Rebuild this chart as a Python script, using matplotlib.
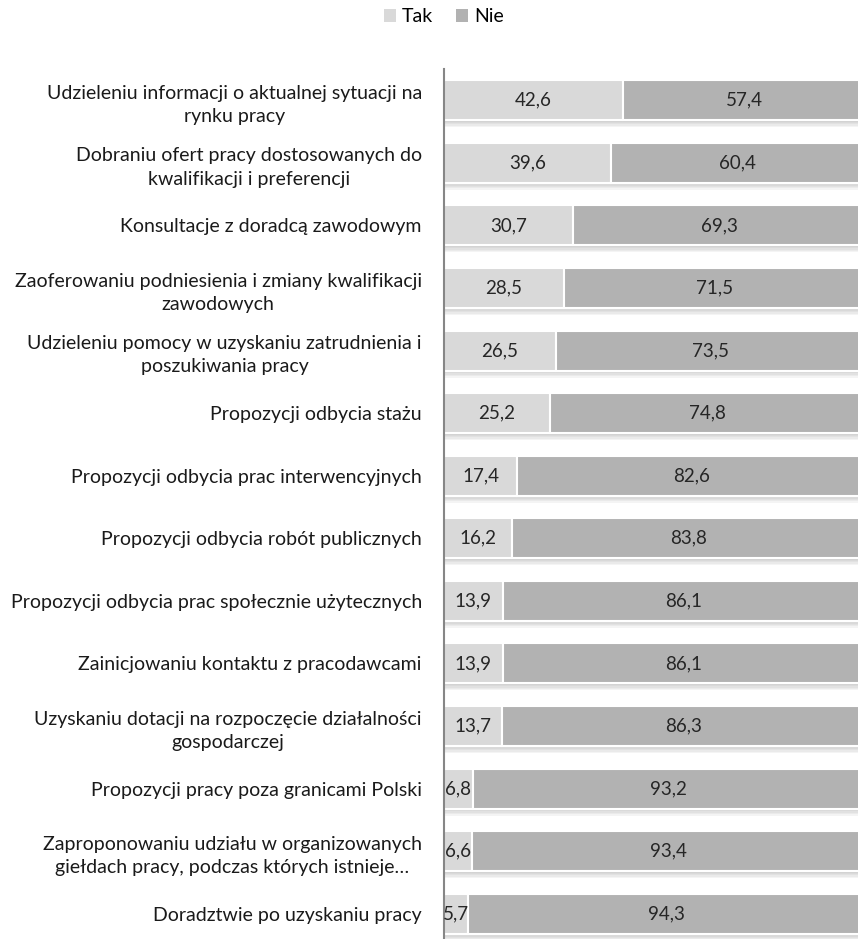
import matplotlib.pyplot as plt
import matplotlib.patheffects as pe
from matplotlib.patches import Patch

plt.rcParams['font.family'] = ['Lato', 'DejaVu Sans']

# odpowiedzi respondentów (%)
kategorie = [
    "Udzieleniu informacji o aktualnej sytuacji na\nrynku pracy",
    "Dobraniu ofert pracy dostosowanych do\nkwalifikacji i preferencji",
    "Konsultacje z doradcą zawodowym",
    "Zaoferowaniu podniesienia i zmiany kwalifikacji\nzawodowych",
    "Udzieleniu pomocy w uzyskaniu zatrudnienia i\nposzukiwania pracy",
    "Propozycji odbycia stażu",
    "Propozycji odbycia prac interwencyjnych",
    "Propozycji odbycia robót publicznych",
    "Propozycji odbycia prac społecznie użytecznych",
    "Zainicjowaniu kontaktu z pracodawcami",
    "Uzyskaniu dotacji na rozpoczęcie działalności\ngospodarczej",
    "Propozycji pracy poza granicami Polski",
    "Zaproponowaniu udziału w organizowanych\ngiełdach pracy, podczas których istnieje…",
    "Doradztwie po uzyskaniu pracy",
]
tak = [42.6, 39.6, 30.7, 28.5, 26.5, 25.2, 17.4, 16.2, 13.9, 13.9, 13.7, 6.8, 6.6, 5.7]
nie = [57.4, 60.4, 69.3, 71.5, 73.5, 74.8, 82.6, 83.8, 86.1, 86.1, 86.3, 93.2, 93.4, 94.3]

KOLOR_TAK = '#D9D9D9'
KOLOR_NIE = '#B2B2B2'

W, H = 858, 939
fig = plt.figure(figsize=(W / 100, H / 100), dpi=100)
# os wykresu wychodzi poza prawy i dolny brzeg (przyciete jak w raporcie)
ax = fig.add_axes([444 / W, 1 - 945 / H, 421 / W, (945 - 69) / H])

y = list(range(len(kategorie)))
# miekki cien pod slupkami
cien = [pe.SimplePatchShadow(offset=(0, -k), shadow_rgbFace='#909090', alpha=0.09)
        for k in (1, 2, 3, 4, 5)] + [pe.Normal()]

b1 = ax.barh(y, tak, height=0.64, color=KOLOR_TAK, edgecolor='white', linewidth=1.5, zorder=2)
b2 = ax.barh(y, nie, left=tak, height=0.64, color=KOLOR_NIE, edgecolor='white', linewidth=1.5,
             zorder=2)
for b in list(b1) + list(b2):
    b.set_path_effects(cien)

for i in y:
    ax.text(tak[i] / 2, i, f"{tak[i]:.1f}".replace('.', ','), ha='center', va='center',
            fontsize=13.5, color='#262626', zorder=4)
    ax.text(tak[i] + nie[i] / 2, i, f"{nie[i]:.1f}".replace('.', ','), ha='center', va='center',
            fontsize=13.5, color='#262626', zorder=4)

ax.set_xlim(0, 100)
ax.set_ylim(len(kategorie) - 0.5, -0.5)
ax.set_yticks(y)
ax.set_yticklabels(kategorie, fontsize=14, color='#1a1a1a', multialignment='center',
                   linespacing=1.45)
ax.tick_params(axis='y', length=0, pad=16)
ax.set_xticks([])
for s in ['top', 'right', 'bottom']:
    ax.spines[s].set_visible(False)
ax.spines['left'].set_color('#868686')
ax.spines['left'].set_linewidth(1.5)
ax.spines['left'].set_zorder(3)

uchwyty = [Patch(facecolor=KOLOR_TAK, label='Tak'), Patch(facecolor=KOLOR_NIE, label='Nie')]
fig.legend(handles=uchwyty, loc='center', bbox_to_anchor=(444 / W, 1 - 17 / H), ncol=2,
           frameon=False, fontsize=14, handlelength=0.6, handleheight=0.6,
           handletextpad=0.3, columnspacing=1.2)

fig.savefig('out.png', dpi=100)
